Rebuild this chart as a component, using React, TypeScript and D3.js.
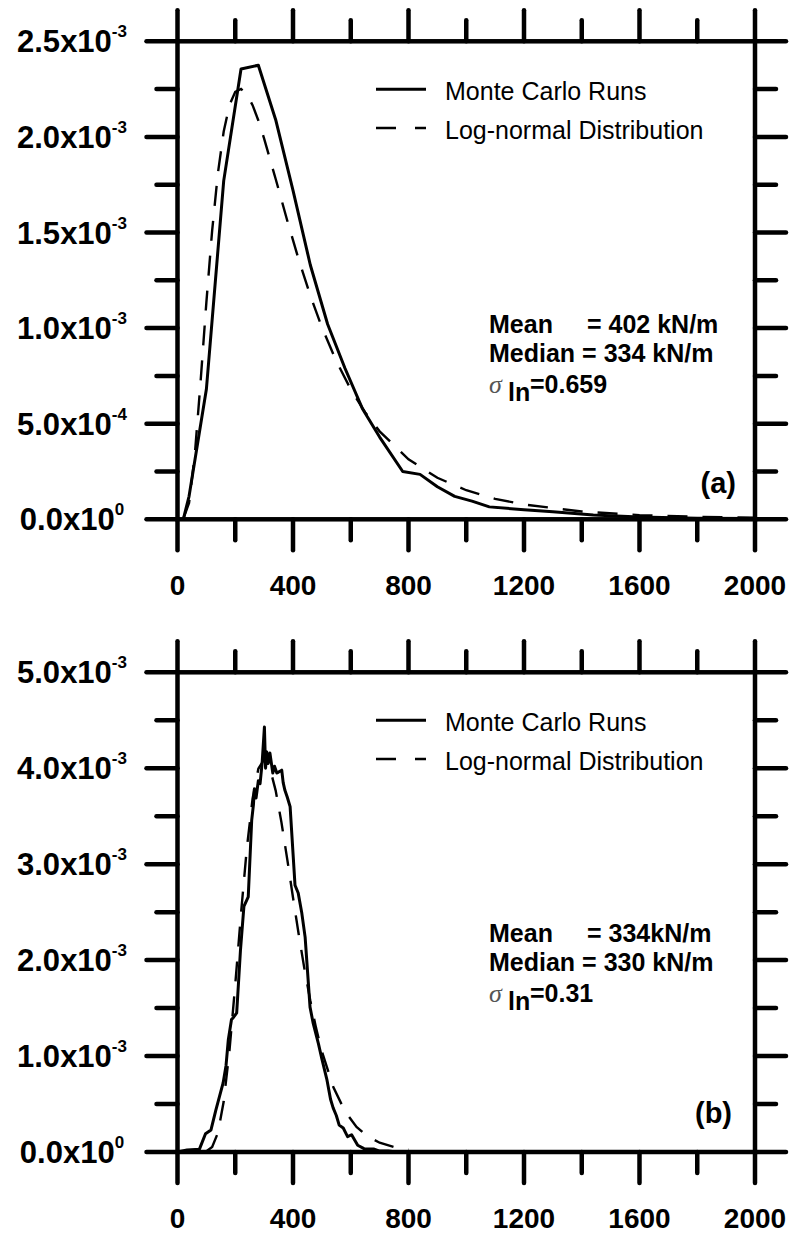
import React from "react";
import * as d3 from "d3";

// ---------- data ----------
const xTicks = [0, 400, 800, 1200, 1600, 2000];
const xMinorTicks = [200, 600, 1000, 1400, 1800];

// panel (a)  — y values in units of 1e-3
const yTicksA = [0, 0.5, 1.0, 1.5, 2.0, 2.5];
const yLabelMantA = ["0.0", "5.0", "1.0", "1.5", "2.0", "2.5"];
const yLabelExpA = ["0", "-4", "-3", "-3", "-3", "-3"];
const yMinorA = [0.25, 0.75, 1.25, 1.75, 2.25];

const mcAx = [20, 40, 100, 160, 220, 280, 340, 400, 460, 520, 580, 640, 700, 780, 840, 900, 960, 1020, 1080, 1200, 1300, 1440, 1600, 1800, 2000];
const mcAy = [0, 0.12, 0.68, 1.77, 2.355, 2.375, 2.09, 1.72, 1.33, 1.02, 0.79, 0.58, 0.43, 0.25, 0.235, 0.17, 0.12, 0.095, 0.065, 0.05, 0.04, 0.022, 0.012, 0.006, 0.004];

const lnAx = [20, 40, 60, 80, 100, 120, 140, 160, 180, 200, 220, 240, 260, 280, 300, 340, 380, 420, 460, 500, 550, 600, 650, 700, 800, 900, 1000, 1100, 1200, 1400, 1600, 1800, 2000];
const lnAy = [0.003, 0.085, 0.339, 0.721, 1.135, 1.51, 1.811, 2.028, 2.166, 2.236, 2.251, 2.224, 2.166, 2.086, 1.991, 1.78, 1.563, 1.357, 1.17, 1.004, 0.827, 0.68, 0.559, 0.46, 0.314, 0.217, 0.152, 0.107, 0.077, 0.041, 0.022, 0.013, 0.008];

// panel (b)
const yTicksB = [0, 1, 2, 3, 4, 5];
const yLabelMantB = ["0.0", "1.0", "2.0", "3.0", "4.0", "5.0"];
const yLabelExpB = ["0", "-3", "-3", "-3", "-3", "-3"];
const yMinorB = [0.5, 1.5, 2.5, 3.5, 4.5];

const mcBx = [0, 33, 76, 97, 116, 133, 158, 168, 176, 187, 193, 205, 218, 230, 245, 257, 263, 266, 272, 280, 286, 293, 301, 305, 309, 314, 320, 330, 336, 344, 350, 361, 366, 372, 380, 390, 407, 418, 430, 442, 459, 470, 488, 500, 517, 530, 539, 550, 560, 574, 589, 603, 624, 646, 681, 700, 730, 760, 2000];
const mcBy = [0, 0.02, 0.03, 0.19, 0.23, 0.44, 0.72, 0.9, 1.17, 1.38, 1.4, 1.45, 2.1, 2.56, 2.66, 3.46, 3.62, 3.78, 3.69, 3.87, 3.84, 4.05, 4.43, 4.0, 4.17, 4.05, 4.16, 3.95, 4.02, 3.95, 3.96, 3.98, 3.85, 3.77, 3.7, 3.6, 2.78, 2.7, 2.5, 2.24, 1.51, 1.34, 1.13, 0.97, 0.76, 0.55, 0.46, 0.38, 0.28, 0.25, 0.16, 0.18, 0.07, 0.035, 0.03, 0.01, 0.01, 0, 0];

const lnBx = [100, 120, 140, 160, 180, 200, 220, 240, 260, 280, 300, 320, 340, 360, 380, 400, 420, 440, 460, 480, 500, 540, 580, 620, 660, 700, 750, 800];
const lnBy = [0.008, 0.052, 0.2, 0.526, 1.057, 1.745, 2.487, 3.163, 3.682, 3.994, 4.092, 4.001, 3.767, 3.436, 3.053, 2.653, 2.264, 1.901, 1.576, 1.291, 1.048, 0.675, 0.424, 0.262, 0.16, 0.097, 0.051, 0.027];

const legendLabels = ["Monte Carlo Runs", "Log-normal Distribution"];
const statsA = ["402 kN/m", "334 kN/m", "0.659"];
const statsB = ["334kN/m", "330 kN/m", "0.31"];

// ---------- layout ----------
const W = 795;
const H = 1237;
const X0 = 177.5;
const X1 = 755;
const MAJOR = 31;
const MINOR = 21;
const AXW = 4.5;
const SANS = "'Liberation Sans', Arial, Helvetica, sans-serif";

type PanelProps = {
  top: number;
  bottom: number;
  yMax: number;
  yTicks: number[];
  yMant: string[];
  yExp: string[];
  yMinor: number[];
  mcx: number[];
  mcy: number[];
  lnx: number[];
  lny: number[];
  stats: string[];
  meanY: number;
  sigY: number;
  tag: string;
  tagX: number;
  tagY: number;
};

function Panel(p: PanelProps) {
  const x = d3.scaleLinear().domain([0, 2000]).range([X0, X1]);
  const y = d3.scaleLinear().domain([0, p.yMax]).range([p.bottom, p.top]);
  const line = d3
    .line<[number, number]>()
    .x((d) => x(d[0]))
    .y((d) => y(d[1]));
  const mc = line(p.mcx.map((v, i) => [v, p.mcy[i]] as [number, number])) || "";
  const ln = line(p.lnx.map((v, i) => [v, p.lny[i]] as [number, number])) || "";
  const yT = y(p.yMax);
  const yB = y(0);
  const legY1 = yT + 48;
  const legY2 = yT + 86.7;
  const tickStyle = { stroke: "#000", strokeWidth: AXW, strokeLinecap: "round" as const };
  return (
    <g>
      {/* curves */}
      <path d={ln} fill="none" stroke="#000" strokeWidth={2.4} strokeDasharray="20,15" />
      <path d={mc} fill="none" stroke="#000" strokeWidth={3} strokeLinejoin="round" />
      {/* frame */}
      <rect x={x(0)} y={yT} width={x(2000) - x(0)} height={yB - yT} fill="none" stroke="#000" strokeWidth={AXW} />
      {/* x ticks bottom and top */}
      {xTicks.map((t) => (
        <g key={"xt" + t}>
          <line x1={x(t)} x2={x(t)} y1={yB} y2={yB + MAJOR} {...tickStyle} />
          <line x1={x(t)} x2={x(t)} y1={yT} y2={yT - MAJOR} {...tickStyle} />
          <text x={x(t)} y={yB + 76} textAnchor="middle" fontFamily={SANS} fontWeight="bold" fontSize={28}>
            {t}
          </text>
        </g>
      ))}
      {xMinorTicks.map((t) => (
        <g key={"xm" + t}>
          <line x1={x(t)} x2={x(t)} y1={yB} y2={yB + MINOR} {...tickStyle} />
          <line x1={x(t)} x2={x(t)} y1={yT} y2={yT - MINOR} {...tickStyle} />
        </g>
      ))}
      {/* y ticks left and right */}
      {p.yTicks.map((t, i) => (
        <g key={"yt" + t}>
          <line x1={X0} x2={X0 - MAJOR} y1={y(t)} y2={y(t)} {...tickStyle} />
          <line x1={X1} x2={X1 + MAJOR} y1={y(t)} y2={y(t)} {...tickStyle} />
          <text x={72} y={y(t) + 11} textAnchor="middle" fontFamily={SANS} fontWeight="bold" fontSize={31}>
            {p.yMant[i]}x10
            <tspan fontSize={17} dy={-15}>
              {p.yExp[i]}
            </tspan>
          </text>
        </g>
      ))}
      {p.yMinor.map((t) => (
        <g key={"ym" + t}>
          <line x1={X0} x2={X0 - MINOR} y1={y(t)} y2={y(t)} {...tickStyle} />
          <line x1={X1} x2={X1 + MINOR} y1={y(t)} y2={y(t)} {...tickStyle} />
        </g>
      ))}
      {/* legend */}
      <line x1={376} x2={426} y1={legY1} y2={legY1} stroke="#000" strokeWidth={3} />
      <line x1={376} x2={426} y1={legY2} y2={legY2} stroke="#000" strokeWidth={2.6} strokeDasharray="20,19" />
      <text x={445} y={legY1 + 10.7} fontFamily={SANS} fontSize={25}>
        {legendLabels[0]}
      </text>
      <text x={445} y={legY2 + 10.7} fontFamily={SANS} fontSize={25}>
        {legendLabels[1]}
      </text>
      {/* stats */}
      <g fontFamily={SANS} fontWeight="bold" fontSize={25}>
        <text x={489} y={p.meanY}>Mean</text>
        <text x={587} y={p.meanY}>= {p.stats[0]}</text>
        <text x={489} y={p.meanY + 29}>Median = {p.stats[1]}</text>
        <text x={508} y={p.sigY + 8}>ln</text>
        <text x={530} y={p.sigY}>={p.stats[2]}</text>
      </g>
      <text x={489} y={p.sigY} fontFamily="'Liberation Serif', 'Times New Roman', serif" fontStyle="italic" fontSize={26} fill="#555">
        σ
      </text>
      <text x={p.tagX} y={p.tagY} textAnchor="end" fontFamily={SANS} fontWeight="bold" fontSize={29}>
        {p.tag}
      </text>
    </g>
  );
}

export default function App() {
  return (
    <svg width={W} height={H} style={{ position: "absolute", left: 0, top: 0, background: "#fff" }}>
      <rect x={0} y={0} width={W} height={H} fill="#fff" />
      <Panel
        top={41.3}
        bottom={519.3}
        yMax={2.5}
        yTicks={yTicksA}
        yMant={yLabelMantA}
        yExp={yLabelExpA}
        yMinor={yMinorA}
        mcx={mcAx}
        mcy={mcAy}
        lnx={lnAx}
        lny={lnAy}
        stats={statsA}
        meanY={333}
        sigY={393}
        tag="(a)"
        tagX={736}
        tagY={493}
      />
      <Panel
        top={672.3}
        bottom={1152}
        yMax={5}
        yTicks={yTicksB}
        yMant={yLabelMantB}
        yExp={yLabelExpB}
        yMinor={yMinorB}
        mcx={mcBx}
        mcy={mcBy}
        lnx={lnBx}
        lny={lnBy}
        stats={statsB}
        meanY={941.7}
        sigY={1002}
        tag="(b)"
        tagX={732}
        tagY={1123}
      />
    </svg>
  );
}
